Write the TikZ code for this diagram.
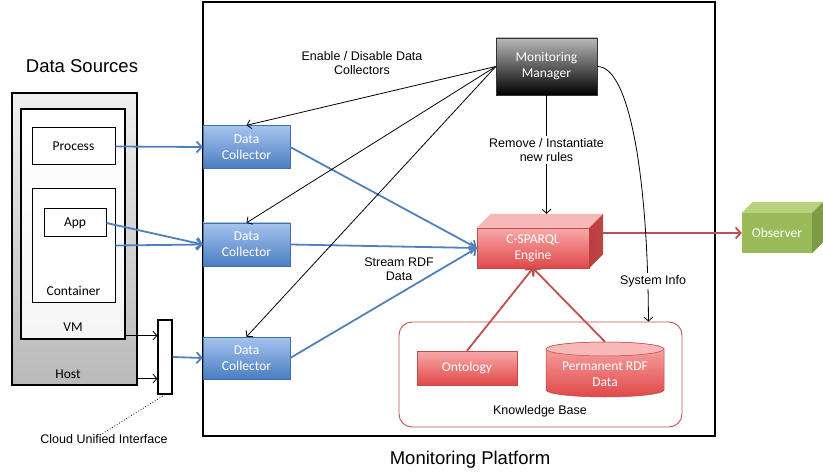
\documentclass[tikz,border=0pt]{standalone}
\usepackage{fontspec}
\setmainfont{Liberation Sans}
\newfontfamily\calib{Carlito}
\usetikzlibrary{arrows.meta,calc}
\definecolor{bluetop}{HTML}{A6C4EE}
\definecolor{bluebot}{HTML}{4A7DC2}
\definecolor{dcborder}{HTML}{3E6FAE}
\definecolor{blueline}{HTML}{4F81BD}
\definecolor{redtop}{HTML}{F9AAAA}
\definecolor{redbot}{HTML}{E04848}
\definecolor{redcap}{HTML}{F7B8B8}
\definecolor{redside}{HTML}{B94646}
\definecolor{redborder}{HTML}{C04A48}
\definecolor{redline}{HTML}{C0504D}
\definecolor{greenfront}{HTML}{9BBB59}
\definecolor{greentop}{HTML}{B7D17D}
\definecolor{greenside}{HTML}{7E9A45}
\begin{document}
\begin{tikzpicture}[x=1pt,y=-1pt,
  lbl/.style={font=\fontsize{12.5}{14.5}\selectfont, align=center, inner sep=1pt},
  title/.style={font=\fontsize{18.5}{21}\selectfont},
  cal/.style={font=\calib\fontsize{13.5}{16}\selectfont, align=center},
  dc/.style={draw=dcborder, top color=bluetop, bottom color=bluebot, text=white, minimum width=87pt, minimum height=43pt, inner sep=0pt, cal},
  redbox/.style={draw=redborder, top color=redtop, bottom color=redbot, text=white, inner sep=0pt, cal},
  whitebox/.style={draw=black, line width=1pt, fill=white, inner sep=0pt, cal},
  barrow/.style={draw=blueline, line width=1.8pt, -{Straight Barb[length=5pt,width=11pt]}},
  rarrow/.style={draw=redline, line width=1.8pt, -{Straight Barb[length=5pt,width=11pt]}},
  karrow/.style={draw=black, line width=0.8pt, -{Straight Barb[length=4pt,width=9pt]}}
]
\useasboundingbox (0,0) rectangle (823,476);

% titles
\node[title] (dstitle) at (82,66) {Data Sources};
\node[title] (mptitle) at (470,460) {Monitoring Platform};

% monitoring platform frame
\node[draw=black, line width=1.6pt, minimum width=512pt, minimum height=434pt, inner sep=0pt] (platform) at (459,219) {};

% data sources
\node[draw=black, line width=1.2pt, top color=gray!12, bottom color=gray!55, minimum width=125pt, minimum height=292pt, inner sep=0pt] (host) at (74.5,239) {};
\node[cal] (hostlbl) at (68,374) {Host};
\node[draw=black, line width=1.2pt, top color=white, bottom color=gray!8, minimum width=104pt, minimum height=230pt, inner sep=0pt] (vm) at (73,224) {};
\node[cal] (vmlbl) at (73,327) {VM};
\node[whitebox, minimum width=83pt, minimum height=37pt] (process) at (73.5,146.5) {Process};
\node[whitebox, minimum width=83pt, minimum height=113pt] (container) at (73.5,245.5) {};
\node[cal] (contlbl) at (73.5,291) {Container};
\node[whitebox, minimum width=62pt, minimum height=28pt] (app) at (75,223) {App};

% cloud unified interface
\node[draw=black, line width=1.2pt, fill=white, minimum width=14pt, minimum height=74pt, inner sep=0pt] (cui) at (165,357) {};
\node[lbl] (cuilbl) at (104,439) {Cloud Unified Interface};
\draw[dotted, line width=0.8pt] (cui.south) -- ([xshift=-4pt,yshift=-2pt]cuilbl.north);
\draw[karrow] ([yshift=4pt]vm.south east) -- ([yshift=4pt]vm.south east -| cui.west);
\draw[karrow] ([yshift=7pt]host.south east) -- ([yshift=7pt]host.south east -| cui.west);

% data collectors
\node[dc] (dc1) at (246.5,147) {Data\\Collector};
\node[dc] (dc2) at (246.5,244.5) {Data\\Collector};
\node[dc, minimum height=42pt] (dc3) at (246.5,358) {Data\\Collector};

\draw[barrow] (process.east) -- (dc1.west);
\draw[barrow] (app.east) -- (dc2.west);
\draw[barrow] (container.east) -- (dc2.west);
\draw[barrow] (cui.east) -- (dc3.west);

% monitoring manager
\node[draw=gray!40!black, top color=gray!55, bottom color=black, text=white, minimum width=101pt, minimum height=57pt, inner sep=0pt, cal] (mm) at (546.5,66.5) {Monitoring\\Manager};

% C-SPARQL engine (3D)
\node[redbox, minimum width=112pt, minimum height=40pt] (cs) at (533,248) {C-SPARQL\\Engine};
\fill[redcap] (cs.north west) -- ++(14,-14) -- ($(cs.north east)+(14,-14)$) -- (cs.north east) -- cycle;
\shade[left color=redbot!85!black, right color=redside] (cs.north east) -- ++(14,-14) -- ($(cs.south east)+(14,-14)$) -- (cs.south east) -- cycle;
\coordinate (cstop) at ([yshift=14pt]cs.north);
\coordinate (csout) at ($(cs.east)+(14,-15)$);

% observer (3D)
\node[fill=greenfront, text=white, minimum width=70pt, minimum height=40pt, inner sep=0pt, cal] (obs) at (777,233) {Observer};
\fill[greentop] (obs.north west) -- ++(11,-11) -- ($(obs.north east)+(11,-11)$) -- (obs.north east) -- cycle;
\fill[greenside] (obs.north east) -- ++(11,-11) -- ($(obs.south east)+(11,-11)$) -- (obs.south east) -- cycle;

% knowledge base
\node[draw=redline, line width=0.9pt, rounded corners=13pt, minimum width=283pt, minimum height=105pt, inner sep=0pt] (kb) at (540.5,374.5) {};
\node[lbl] (kblbl) at (540,411) {Knowledge Base};
\node[redbox, minimum width=100pt, minimum height=34pt] (ont) at (467,368) {Ontology};
\shade[top color=redtop, bottom color=redbot, draw=redborder, line width=0.5pt]
  (546,349) -- (546,390) arc[start angle=180, end angle=0, x radius=59, y radius=7]
  -- (664,349) arc[start angle=0, end angle=-180, x radius=59, y radius=7] -- cycle;
\draw[fill=redcap, draw=redborder, line width=0.5pt] (605,349) ellipse [x radius=59, y radius=7];
\node[minimum width=118pt, minimum height=55pt, inner sep=0pt] (perm) at (605,369.5) {};
\node[cal, text=white, inner sep=0pt] (permlbl) at (605,374) {Permanent RDF\\Data};
\coordinate (kbtop) at ($(kb.north east)+(-34,0)$);

% blue stream arrows
\draw[barrow] (dc1.east) -- (cs.west);
\draw[barrow] (dc2.east) -- (cs.west);
\draw[barrow] (dc3.east) -- (cs.west);
\node[lbl] (streamlbl) at (399,269) {Stream RDF\\Data};

% red arrows
\draw[rarrow] (ont.north) -- (cs.south);
\draw[rarrow] (perm.north) -- (cs.south);
\draw[rarrow] (csout) -- (obs.west);

% manager arrows
\draw[karrow] (mm.west) -- (dc1.north);
\draw[karrow] (mm.west) -- (dc2.north);
\draw[karrow] (mm.west) -- (dc3.north);
\node[lbl] (enlbl) at (362,63) {Enable / Disable Data\\Collectors};

\draw[karrow] (mm.south) -- (mm.south |- cstop);
\node[lbl, fill=white, inner sep=2pt] (remlbl) at (546.5,150) {Remove / Instantiate\\new rules};

\draw[karrow] (mm.east) .. controls (630,66) and (648,180) .. (kbtop);
\node[lbl, fill=white, inner sep=2pt] (syslbl) at (653,281) {System Info};
\end{tikzpicture}
\end{document}
